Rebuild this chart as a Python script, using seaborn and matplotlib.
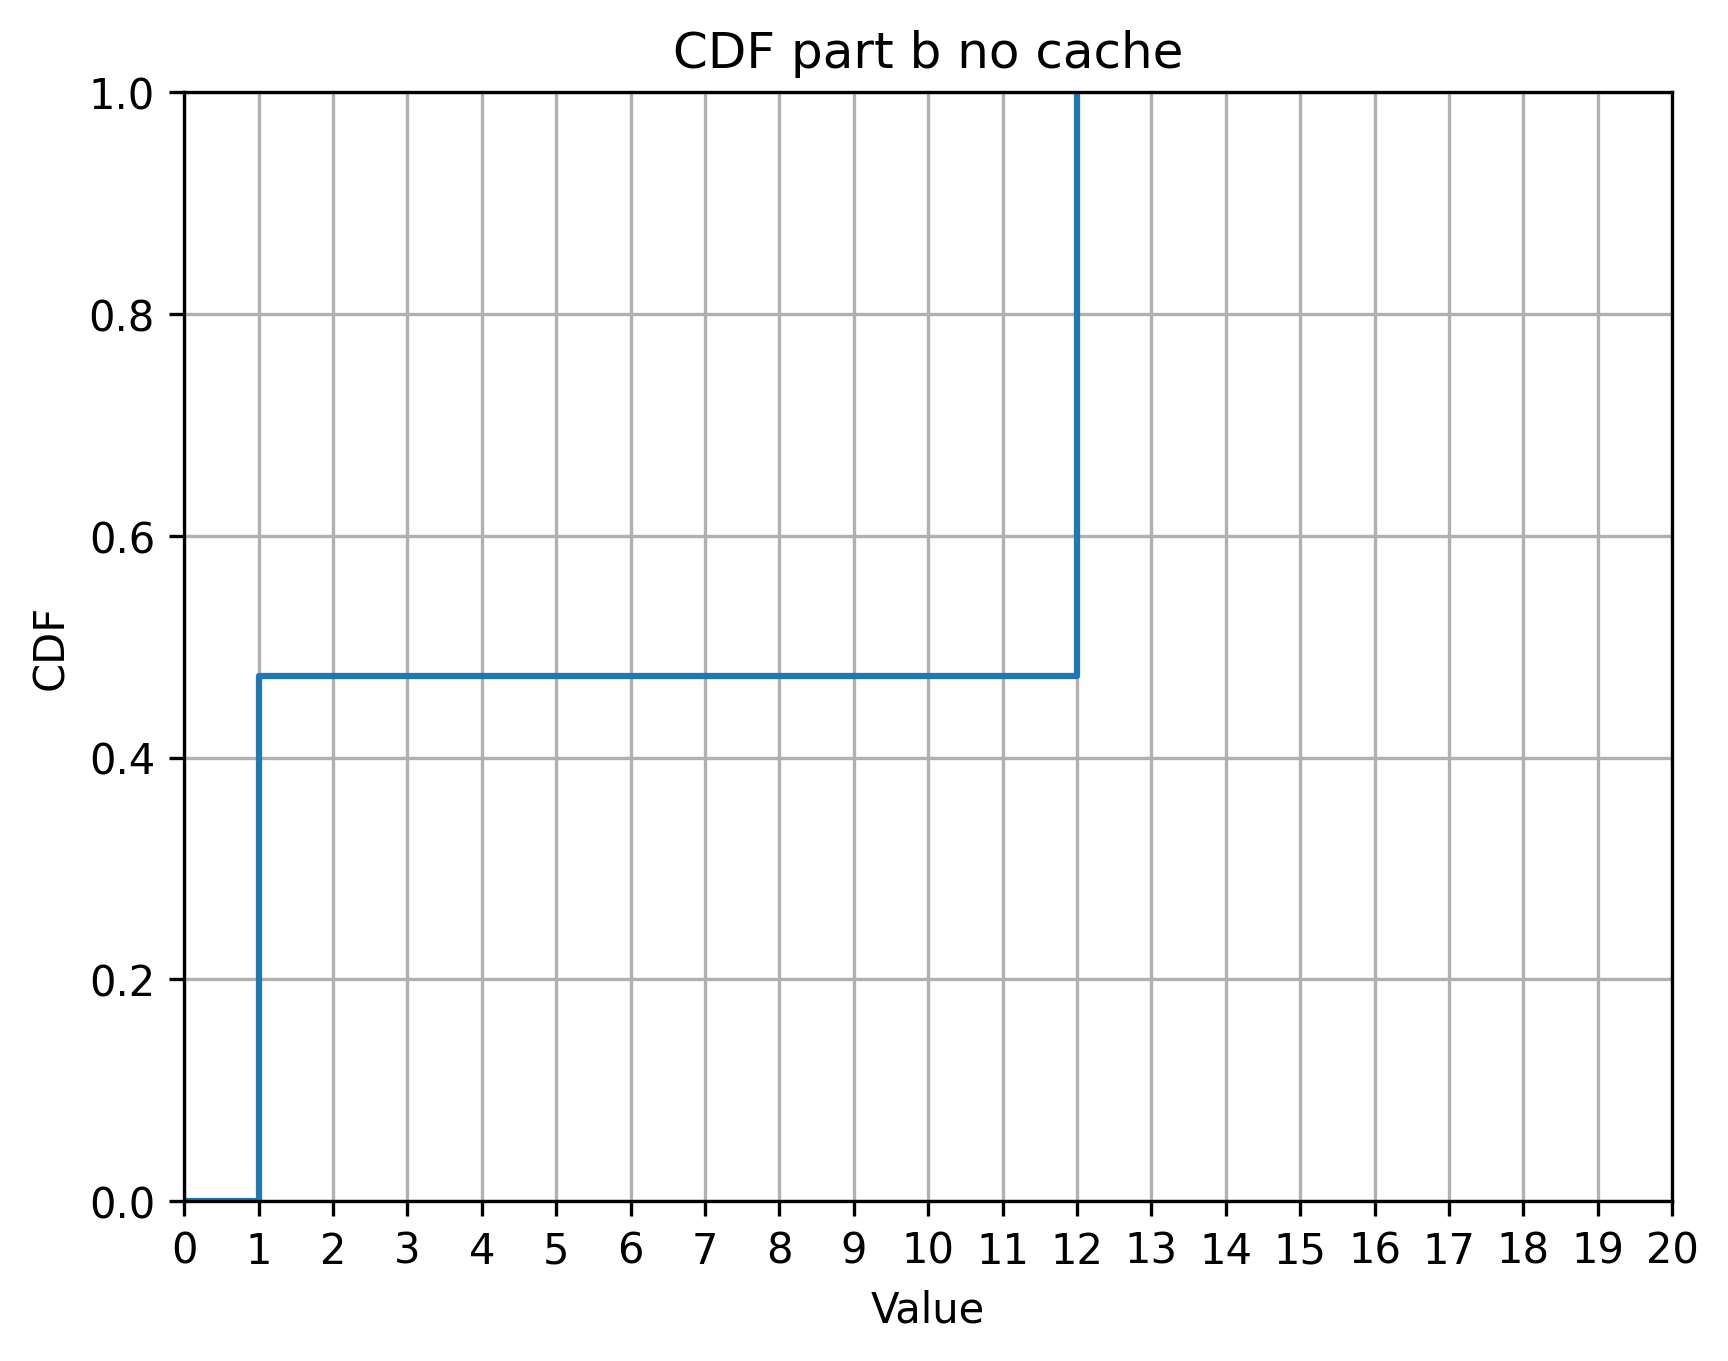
import matplotlib
matplotlib.use("Agg")
import matplotlib.pyplot as plt
import seaborn as sns
import numpy as np
import pandas as pd

# Observed sample values (read from the step heights: ~9/19 at 1, rest at 12)
values = [1] * 9 + [12] * 10
x_start = 0
x_ticks = list(range(0, 21))
y_ticks = [0.0, 0.2, 0.4, 0.6, 0.8, 1.0]

# Empirical CDF points
sorted_vals = np.sort(np.array(values, dtype=float))
cdf_vals = np.arange(1, len(sorted_vals) + 1) / len(sorted_vals)
df = pd.DataFrame({
    "Value": np.r_[x_start, sorted_vals],
    "CDF": np.r_[0.0, cdf_vals],
    "order": np.arange(len(sorted_vals) + 1),
})

fig, ax = plt.subplots(figsize=(6.4, 4.8), dpi=300)
sns.lineplot(data=df, x="Value", y="CDF", ax=ax, color="#1f77b4",
             linewidth=1.5, drawstyle="steps-post", estimator=None,
             sort=False, units=None)
ax.set_xlim(0, 20)
ax.set_ylim(0, 1)
ax.set_xticks(x_ticks)
ax.set_yticks(y_ticks)
ax.set_xlabel("Value")
ax.set_ylabel("CDF")
ax.set_title("CDF part b no cache")
ax.grid(True)
fig.savefig("out.png", dpi=300, bbox_inches="tight")
